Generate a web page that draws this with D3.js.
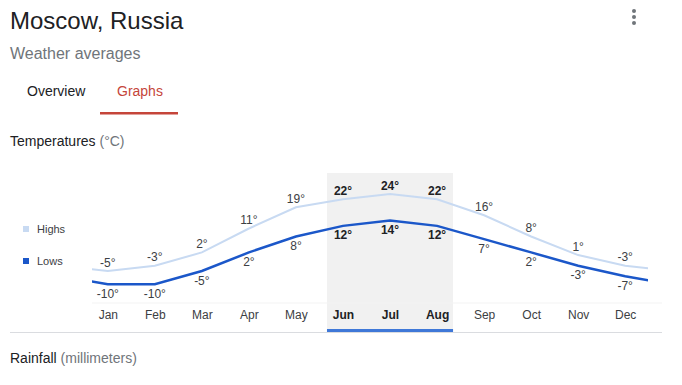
<!DOCTYPE html>
<html>
<head>
<meta charset="utf-8">
<script src="https://cdn.jsdelivr.net/npm/d3@7"></script>
<style>
  body { margin: 0; background: #fff; }
  svg { display: block; font-family: Arial, "Liberation Sans", sans-serif; }
</style>
</head>
<body>
<svg id="chart" width="682" height="385"></svg>
<script>
const months = ['Jan', 'Feb', 'Mar', 'Apr', 'May', 'Jun', 'Jul', 'Aug', 'Sep', 'Oct', 'Nov', 'Dec'];
const highs = [-5, -3, 2, 11, 19, 22, 24, 22, 16, 8, 1, -3];
const lows = [-10, -10, -5, 2, 8, 12, 14, 12, 7, 2, -3, -7];
const summer = ['Jun', 'Jul', 'Aug'];

const svg = d3.select('#chart');

// header
svg.append('text').attr('x', 10).attr('y', 29).attr('font-size', 24).attr('fill', '#202124').text('Moscow, Russia');
svg.append('text').attr('x', 10).attr('y', 59).attr('font-size', 16).attr('fill', '#70757a').text('Weather averages');
svg.append('text').attr('x', 27).attr('y', 96).attr('font-size', 14).attr('fill', '#202124').text('Overview');
svg.append('text').attr('x', 117).attr('y', 96).attr('font-size', 14).attr('fill', '#c5453a').text('Graphs');
svg.append('rect').attr('x', 100).attr('y', 112).attr('width', 78).attr('height', 2.5).attr('fill', '#c5453a');

// kebab menu
svg.selectAll('circle.dot').data([11, 17, 23]).join('circle').classed('dot', true)
  .attr('cx', 634).attr('cy', (d) => d).attr('r', 2).attr('fill', '#70757a');

const title = svg.append('text').attr('x', 10).attr('y', 146).attr('font-size', 14).attr('fill', '#202124');
title.append('tspan').text('Temperatures ');
title.append('tspan').attr('fill', '#70757a').text('(°C)');

const x = d3.scalePoint().domain(months).range([107.8, 625.2]);
const step = x.step();
const y = d3.scaleLinear().domain([-5, 24]).range([271, 194]);

// summer highlight
const hx0 = x(summer[0]) - 16;
const hx1 = x(summer[summer.length - 1]) + 16;
svg.append('rect').attr('x', hx0).attr('y', 173).attr('width', hx1 - hx0).attr('height', 156).attr('fill', '#f1f1f1');
svg.append('line').attr('x1', 92).attr('x2', 662).attr('y1', 303).attr('y2', 303).attr('stroke', '#f3f3f3');
svg.append('rect').attr('x', hx0).attr('y', 329).attr('width', hx1 - hx0).attr('height', 3).attr('fill', '#3f78d8');
svg.append('line').attr('x1', 10).attr('x2', 662).attr('y1', 332.5).attr('y2', 332.5).attr('stroke', '#dadce0');

// lines wrap around the year, clipped to the plot
svg.append('clipPath').attr('id', 'plot-clip').append('rect')
  .attr('x', 92).attr('y', 150).attr('width', 556).attr('height', 160);

function wrapped(values) {
  const pts = values.map((v, i) => [x(months[i]), y(v)]);
  pts.unshift([x(months[0]) - step, y(values[values.length - 1])]);
  pts.push([x(months[months.length - 1]) + step, y(values[0])]);
  return pts;
}

const line = d3.line();
svg.append('path').attr('clip-path', 'url(#plot-clip)').attr('d', line(wrapped(highs)))
  .attr('fill', 'none').attr('stroke', '#c8daf2').attr('stroke-width', 2);
svg.append('path').attr('clip-path', 'url(#plot-clip)').attr('d', line(wrapped(lows)))
  .attr('fill', 'none').attr('stroke', '#1b57c9').attr('stroke-width', 2.5);

const isSummer = (m) => summer.includes(m);

svg.selectAll('text.high').data(highs).join('text').classed('high', true)
  .attr('x', (d, i) => x(months[i])).attr('y', (d) => y(d) - 4.5)
  .attr('text-anchor', 'middle').attr('font-size', 12)
  .attr('font-weight', (d, i) => (isSummer(months[i]) ? 'bold' : 'normal'))
  .attr('fill', (d, i) => (isSummer(months[i]) ? '#202124' : '#3c4043'))
  .text((d) => `${d}°`);

svg.selectAll('text.low').data(lows).join('text').classed('low', true)
  .attr('x', (d, i) => x(months[i])).attr('y', (d) => y(d) + 13.5)
  .attr('text-anchor', 'middle').attr('font-size', 12)
  .attr('font-weight', (d, i) => (isSummer(months[i]) ? 'bold' : 'normal'))
  .attr('fill', (d, i) => (isSummer(months[i]) ? '#202124' : '#3c4043'))
  .text((d) => `${d}°`);

// month axis
const axis = svg.append('g').attr('transform', 'translate(0,319)')
  .call(d3.axisBottom(x).tickSize(0).tickPadding(0));
axis.select('.domain').remove();
axis.selectAll('text')
  .attr('y', 0).attr('dy', 0)
  .attr('font-size', 12)
  .attr('font-family', 'Arial, "Liberation Sans", sans-serif')
  .attr('font-weight', (d) => (isSummer(d) ? 'bold' : 'normal'))
  .attr('fill', (d) => (isSummer(d) ? '#202124' : '#3c4043'));

// legend
const legend = [['Highs', '#c8daf2', 233], ['Lows', '#1b57c9', 265]];
svg.selectAll('rect.key').data(legend).join('rect').classed('key', true)
  .attr('x', 23).attr('y', (d) => d[2] - 7).attr('width', 6).attr('height', 6).attr('fill', (d) => d[1]);
svg.selectAll('text.key').data(legend).join('text').classed('key', true)
  .attr('x', 37).attr('y', (d) => d[2]).attr('font-size', 11).attr('fill', '#3c4043').text((d) => d[0]);

const rain = svg.append('text').attr('x', 10).attr('y', 363).attr('font-size', 14).attr('fill', '#202124');
rain.append('tspan').text('Rainfall ');
rain.append('tspan').attr('fill', '#70757a').text('(millimeters)');
</script>
</body>
</html>
